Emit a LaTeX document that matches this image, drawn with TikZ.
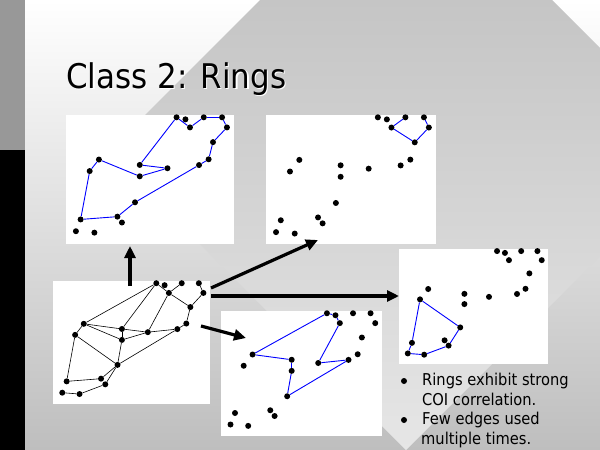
\documentclass[tikz,border=0pt]{standalone}
\usepackage{fontspec}
\setmainfont{DejaVu Sans}
\usetikzlibrary{arrows.meta}
\definecolor{barGray}{RGB}{152,152,152}
\definecolor{baseBottom}{RGB}{190,190,190}
\definecolor{bandTop}{RGB}{197,197,197}
\definecolor{bandBottom}{RGB}{230,230,230}
\definecolor{ringBlue}{RGB}{0,0,255}
\tikzset{
  panel/.style={fill=white, inner sep=0pt, anchor=north west},
  dot/.style={circle, fill=black, inner sep=0pt, minimum size=6pt},
  link/.style={black, line width=0.6pt},
  ring/.style={ringBlue, line width=0.9pt},
  bigarrow/.style={line width=3.2pt, -{Triangle[length=12pt,width=11pt]}},
  slidetext/.style={anchor=base west, inner sep=0pt, font=\fontsize{16.3}{19}\selectfont},
  titletext/.style={anchor=base west, inner sep=0pt, font=\fontsize{34}{40}\selectfont}
}
% the same twenty hosts in every panel, in panel units
\newcommand{\graphdots}[1]{%
  \foreach \k/\gx/\gy in {1/.658/.018, 2/.711/.034, 3/.738/.097, 4/.820/.018,
      5/.929/.018, 6/.958/.097, 7/.875/.212, 8/.849/.346, 9/.792/.391,
      10/.439/.390, 11/.604/.416, 12/.439/.479, 13/.196/.348, 14/.141/.438,
      15/.411/.682, 16/.306/.794, 17/.333/.840, 18/.087/.816, 19/.059/.908,
      20/.169/.919}
    \node[dot] (#1-\k) at (\gx,\gy) {};}
\newcommand{\slidescale}[1]{\scalebox{0.9}[1]{#1}}

\begin{document}
\begin{tikzpicture}[x=1pt,y=-1pt]
\useasboundingbox (0,0) rectangle (600,450);
% background
\shade[top color=white, bottom color=baseBottom] (25,0) rectangle (600,450);
\shade[top color=bandTop, bottom color=bandBottom] (108,152) -- (260,0) -- (552,0) -- (600,48) -- (600,256) -- (406,450) -- cycle;
\fill[barGray] (0,0) rectangle (25,150);
\fill[black] (0,150) rectangle (25,450);
%
\node[titletext, white] (titleshadow) at (67.3,89.3) {\scalebox{0.91}[1]{Class 2: Rings}};
\node[titletext] (title) at (66,88) {\scalebox{0.91}[1]{Class 2: Rings}};
%
\node[panel, minimum width=168pt, minimum height=129pt] (panA) at (66,115) {};
\node[panel, minimum width=170pt, minimum height=129pt] (panB) at (266,115) {};
\node[panel, minimum width=157pt, minimum height=123pt] (panC) at (53,281) {};
\node[panel, minimum width=161pt, minimum height=125pt] (panD) at (221,311) {};
\node[panel, minimum width=149pt, minimum height=115pt] (panE) at (399,249) {};
%
% full graph
\begin{scope}[shift={(53,281)}, x=157pt, y=-123pt]
\graphdots{all}
\foreach \a/\b in {13/1, 1/3, 3/4, 1/10, 3/11, 3/7, 5/6, 6/7, 7/8, 8/9, 10/11, 11/9,
    13/10, 13/12, 12/11, 10/12, 12/15, 9/15, 13/14, 14/15, 14/18, 18/16, 15/16,
    15/17, 17/20, 19/20}
  \draw[link] (all-\a) -- (all-\b);
\end{scope}
% rings
\begin{scope}[shift={(66,115)}, x=168pt, y=-128pt]
\graphdots{ra}
\foreach \a/\b in {18/14, 14/13, 13/12, 12/11, 11/10, 10/1, 1/3, 3/4, 4/5, 5/6, 6/7,
    7/8, 8/9, 9/15, 15/16, 16/18}
  \draw[ring] (ra-\a) -- (ra-\b);
\end{scope}
\begin{scope}[shift={(266,115)}, x=170pt, y=-129pt]
\graphdots{rb}
\foreach \a/\b in {4/3, 3/7, 7/6, 6/5}
  \draw[ring] (rb-\a) -- (rb-\b);
\end{scope}
\begin{scope}[shift={(221,311)}, x=161pt, y=-125pt]
\graphdots{rc}
\foreach \a/\b in {13/1, 1/2, 2/3, 3/11, 11/9, 9/15, 15/12, 12/10, 10/13}
  \draw[ring] (rc-\a) -- (rc-\b);
\end{scope}
\begin{scope}[shift={(399,249)}, x=149pt, y=-115pt]
\graphdots{rd}
\foreach \a/\b in {14/15, 15/17, 17/20, 20/19, 19/18, 18/14}
  \draw[ring] (rd-\a) -- (rd-\b);
\end{scope}
%
% arrows out of the full graph
\coordinate (upTail) at (130,286);
\coordinate (upTip) at (130,246);
\coordinate (bTail) at (211,288);
\coordinate (bTip) at (318,240);
\coordinate (eTail) at (211,296);
\coordinate (eTip) at (399,296);
\coordinate (dTail) at (201,326);
\coordinate (dTip) at (246,338);
\draw[bigarrow] (upTail) -- (upTip);
\draw[bigarrow] (bTail) -- (bTip);
\draw[bigarrow] (eTail) -- (eTip);
\draw[bigarrow] (dTail) -- (dTip);
%
\node[dot] (bul1) at (404,381) {};
\node[slidetext] (line1) at (422,385.5) {\slidescale{Rings exhibit strong}};
\node[slidetext] (line2) at (422,405) {\slidescale{COI correlation.}};
\node[dot] (bul2) at (404,420) {};
\node[slidetext] (line3) at (422,424.5) {\slidescale{Few edges used}};
\node[slidetext] (line4) at (421,444) {\slidescale{multiple times.}};
\end{tikzpicture}
\end{document}
